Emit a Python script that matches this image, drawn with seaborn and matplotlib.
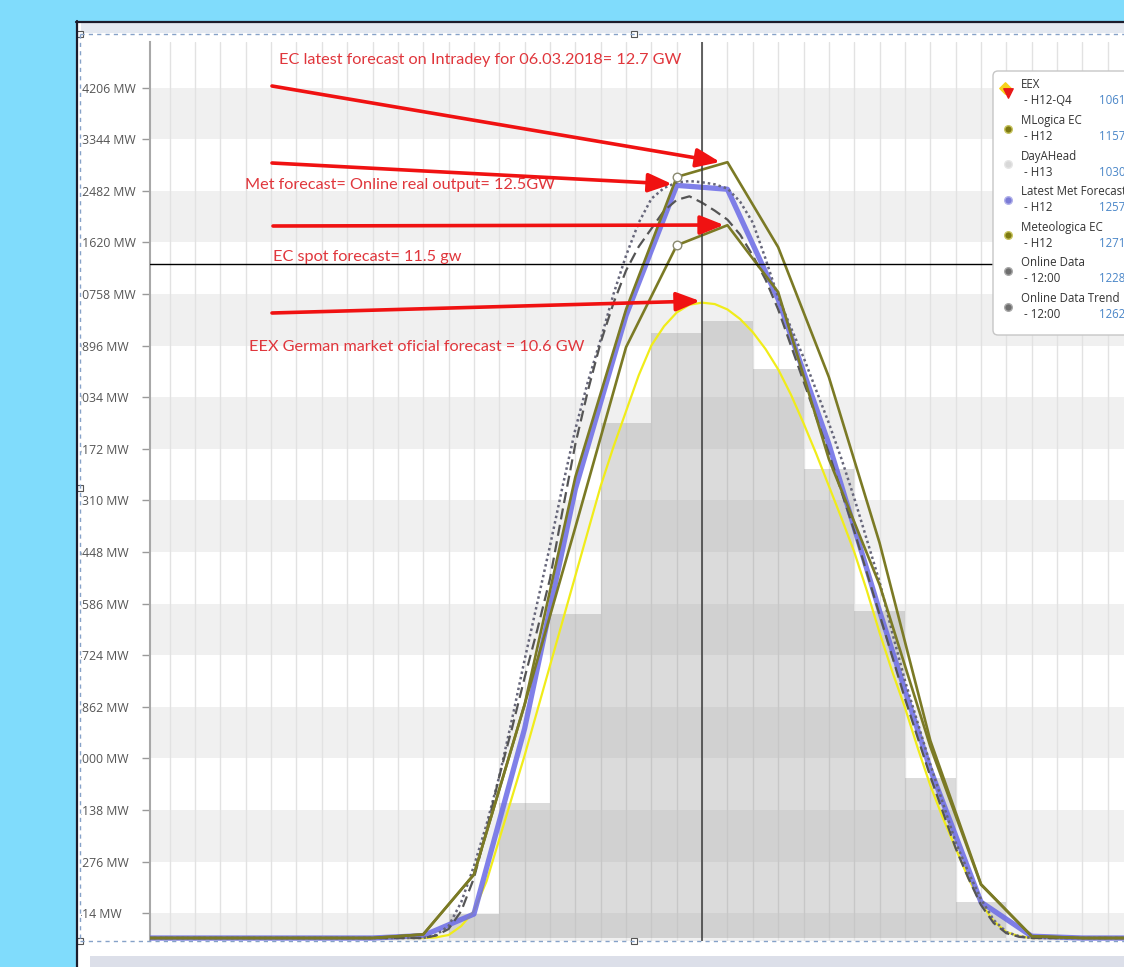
import numpy as np
import pandas as pd
import matplotlib
matplotlib.use("Agg")
import matplotlib.pyplot as plt
import seaborn as sns
from matplotlib.patches import Rectangle, FancyBboxPatch

# hourly products H1..H24, drawn in the middle of each hour
hours = np.arange(24) + 0.5
meteologica_ec = [0] * 6 + [60, 1060, 3900, 7700, 10500, 12714, 12960, 11540, 9370, 6600, 3300, 900, 30] + [0] * 5
mlogica_ec = [0] * 6 + [60, 1060, 3900, 6860, 9870, 11572, 11907, 10790, 8000, 5900, 3200, 890, 30] + [0] * 5
latest_met = [0] * 6 + [40, 400, 3500, 7500, 10400, 12573, 12508, 10670, 8250, 5460, 2820, 600, 30] + [0] * 5
dayahead = [0] * 7 + [400, 2250, 5410, 8600, 10100, 10304, 9500, 7830, 5460, 2670, 600] + [0] * 6

# quarter-hourly curves, 00:00 .. 23:45 (daylight part 06:30 .. 18:30)
quarters = np.arange(96) * 0.25
eex = [0] * 26 + [0, 10, 50, 200, 450, 950, 1650, 2350, 3050, 3800, 4550, 5300, 6050, 6800, 7550,
                  8200, 8800, 9400, 9900, 10220, 10450, 10580, 10614, 10590, 10500, 10340, 10120,
                  9840, 9500, 9080, 8600, 8090, 7550, 7010, 6450, 5800, 5100, 4450, 3850, 3180,
                  2550, 2000, 1500, 1000, 580, 280, 100, 30, 0] + [0] * 21
online_data = [0] * 26 + [0, 40, 150, 450, 1000, 1800, 2700, 3500, 4350, 5150, 6000, 7150, 8250, 9150,
                          9950, 10600, 11150, 11550, 11850, 12150, 12330, 12390, 12283, 12150, 12000,
                          11750, 11400, 11000, 10500, 9900, 9300, 8700, 8100, 7450, 6800, 6100, 5400,
                          4700, 4000, 3350, 2700, 2100, 1500, 1000, 550, 250, 80, 20, 0] + [0] * 21
online_trend = [0] * 26 + [0, 50, 200, 600, 1200, 1900, 2700, 3650, 4650, 5600, 6550, 7550, 8500, 9300,
                           10000, 10750, 11400, 11950, 12350, 12530, 12620, 12645, 12625, 12590, 12520,
                           12300, 11950, 11350, 10700, 10200, 9700, 9150, 8600, 8000, 7350, 6650, 5950,
                           5100, 4300, 3600, 2900, 2250, 1600, 1100, 650, 300, 100, 30, 0] + [0] * 21

y_ticks = [414, 1276, 2138, 3000, 3862, 4724, 5586, 6448, 7310, 8172, 9034,
           9896, 10758, 11620, 12482, 13344, 14206]
y_tick_labels = [f"{v} MW" for v in y_ticks]
cross_time = 12.0
cross_value = 11255

legend_names = ["EEX", "MLogica EC", "DayAHead", "Latest Met Forecast", "Meteologica EC",
                "Online Data", "Online Data Trend"]
legend_subs = [" - H12-Q4", " - H12", " - H13", " - H12", " - H12", " - 12:00", " - 12:00"]
legend_values = ["10614 MW", "11572 MW", "10304 MW", "12573 MW", "12714 MW", "12283 MW", "12625 MW"]

notes = ["EC latest forecast on Intradey for 06.03.2018= 12.7 GW",
         "Met forecast= Online real output= 12.5GW",
         "EC spot forecast= 11.5 gw",
         "EEX German market oficial forecast = 10.6 GW"]

OLIVE = "#7b7a25"
BLUE = "#6a6ae6"
YELLOW = "#f0ec1a"
BG = "#80dcfc"
W, H = 1124, 967

sns.set_theme(style="white")
plt.rcParams["font.family"] = ["Open Sans", "DejaVu Sans"]

fig = plt.figure(figsize=(W / 100, H / 100), dpi=100)
fig.patch.set_facecolor(BG)

# background panel (pixel coordinates)
bg = fig.add_axes([0, 0, 1, 1], zorder=0)
bg.set_xlim(0, W)
bg.set_ylim(H, 0)
bg.axis("off")
bg.add_patch(Rectangle((77, 22), W - 77, H - 22, facecolor="white", edgecolor="none"))
bg.add_patch(Rectangle((77, 22), W - 77, 11, facecolor="#e4e9f1", edgecolor="none"))
bg.add_patch(Rectangle((90, 956), W - 90, 11, facecolor="#dcdfe9", edgecolor="none"))

# main chart
ax = fig.add_axes([150 / W, 1 - 941 / H, 1 - 150 / W, (941 - 42) / H], zorder=1)
ax.set_facecolor("white")

ax.axhspan(-50, y_ticks[0], color="#f0f0f0", zorder=0.2, lw=0)
for i in range(1, len(y_ticks) - 1, 2):
    ax.axhspan(y_ticks[i], y_ticks[i + 1], color="#f0f0f0", zorder=0.2, lw=0)

dah = pd.DataFrame({"hour": hours, "mw": dayahead})
sns.histplot(data=dah, x="hour", weights="mw", bins=list(range(25)), color="#8a8a8a",
             alpha=0.3, linewidth=0, ax=ax, zorder=1)

sns.lineplot(x=quarters, y=eex, color=YELLOW, linewidth=1.6, ax=ax, zorder=3)
sns.lineplot(x=hours, y=latest_met, color=BLUE, linewidth=3.8, alpha=0.85, ax=ax, zorder=4)
sns.lineplot(x=quarters, y=online_trend, color="#66667a", linewidth=1.8,
             linestyle=(0, (1, 1.2)), ax=ax, zorder=5)
sns.lineplot(x=quarters, y=online_data, color="#555555", linewidth=1.6,
             linestyle=(0, (5, 2.5)), ax=ax, zorder=5)
sns.lineplot(x=hours, y=mlogica_ec, color=OLIVE, linewidth=1.9, ax=ax, zorder=6)
sns.lineplot(x=hours, y=meteologica_ec, color=OLIVE, linewidth=1.9, ax=ax, zorder=6)
sns.scatterplot(x=[hours[11], hours[11]], y=[meteologica_ec[11], mlogica_ec[11]], s=38,
                color="white", edgecolor="#8a8a70", linewidth=1, ax=ax, zorder=7)

ax.axvline(cross_time, color="#3a3a3a", lw=1.1, zorder=8)
ax.axhline(cross_value, color="black", lw=1, zorder=8)

ax.set_xlim(1.112, 20.32)
ax.set_ylim(-50, 14968)
ax.set_xticks(np.arange(1.5, 20.5, 0.5))
ax.grid(axis="x", color="#e2e2e2", lw=1)
ax.grid(axis="y", visible=False)
ax.set_axisbelow(True)
ax.tick_params(axis="x", length=0, labelbottom=False)
ax.set_yticks(y_ticks, y_tick_labels)
ax.tick_params(axis="y", left=True, length=6, width=1, color="#9a9a9a", pad=48.2,
               labelsize=8.8, labelcolor="#555555")
for lab in ax.get_yticklabels():
    lab.set_horizontalalignment("left")
ax.set_xlabel("")
ax.set_ylabel("")
for side in ["top", "right", "bottom"]:
    ax.spines[side].set_visible(False)
ax.spines["left"].set_color("#a8a8a8")
ax.spines["left"].set_linewidth(1.5)

# overlay: frame, selection marks, annotations, legend
ov = fig.add_axes([0, 0, 1, 1], zorder=3)
ov.set_xlim(0, W)
ov.set_ylim(H, 0)
ov.axis("off")
ov.add_patch(Rectangle((76, 22), 4.5, H - 22, facecolor="white", edgecolor="none"))
ov.add_patch(Rectangle((0, 0), 76, H, facecolor=BG, edgecolor="none"))
ov.add_patch(Rectangle((0, 0), W, 20.5, facecolor=BG, edgecolor="none"))
ov.plot([76.5, 76.5], [20.5, H], color="#1c1c2c", lw=1.6)
ov.plot([76, W], [21.5, 21.5], color="#1c1c2c", lw=1.6)
sel = dict(color="#86a2c8", lw=1, ls=(0, (3, 3)))
ov.plot([80, W], [33.5, 33.5], **sel)
ov.plot([79.5, 79.5], [33.5, 940.5], **sel)
ov.plot([80, W], [940.5, 940.5], **sel)
for hx, hy in [(79.5, 33.5), (634, 33.5), (79.5, 488), (79.5, 940.5), (634, 940.5)]:
    ov.add_patch(Rectangle((hx - 3, hy - 3), 6, 6, facecolor="white", edgecolor="#555555", lw=0.8))

note_pos = [(279, 60), (245, 185), (273, 257), (249, 347)]
arrows = [((272, 86), (720, 162)), ((272, 163), (672, 184)),
          ((273, 226), (724, 225)), ((272, 313), (700, 301))]
for s, (tx, ty) in zip(notes, note_pos):
    ov.text(tx, ty, s, color="#e0363c", fontsize=11.7, family=["Lato", "DejaVu Sans"],
            ha="left", va="center")
for tail, head in arrows:
    ov.annotate("", xy=head, xytext=tail,
                arrowprops=dict(arrowstyle="-|>,head_length=1.2,head_width=0.48",
                                color="#f01212", lw=2.6, shrinkA=0, shrinkB=0))

ov.add_patch(FancyBboxPatch((993, 71), 170, 264, boxstyle="round,pad=0,rounding_size=5",
                            facecolor="white", edgecolor="#c6c6c6", lw=1, zorder=4))
marker_colors = [None, "#7d7a12", "#d8d8d8", "#7b7bd6", "#7d7a12", "#6e6e6e", "#6e6e6e"]
marker_edges = [None, "#c8c460", "#e6e6e6", "#b2b2ea", "#c8c460", "#a8a8a8", "#a8a8a8"]
for i, (name, sub, val) in enumerate(zip(legend_names, legend_subs, legend_values)):
    y0 = 85 + i * 35.6
    ov.text(1021, y0, name, fontsize=8.3, color="#333333", va="center", zorder=5)
    ov.text(1021, y0 + 16, sub, fontsize=8.3, color="#333333", va="center", zorder=5)
    ov.text(1099, y0 + 16, val, fontsize=8.3, color="#4a86c8", va="center", zorder=5)
    if marker_colors[i] is None:
        ov.scatter([1005], [y0 + 3], marker="D", s=34, color="#f7d21a", zorder=5)
        ov.scatter([1008], [y0 + 8], marker="v", s=46, color="#e81818", zorder=6)
    else:
        ov.scatter([1008], [y0 + 8], s=30, color=marker_colors[i], edgecolor=marker_edges[i],
                   linewidth=1, zorder=5)

fig.savefig("out.png", dpi=100, facecolor=fig.get_facecolor())
plt.close(fig)
